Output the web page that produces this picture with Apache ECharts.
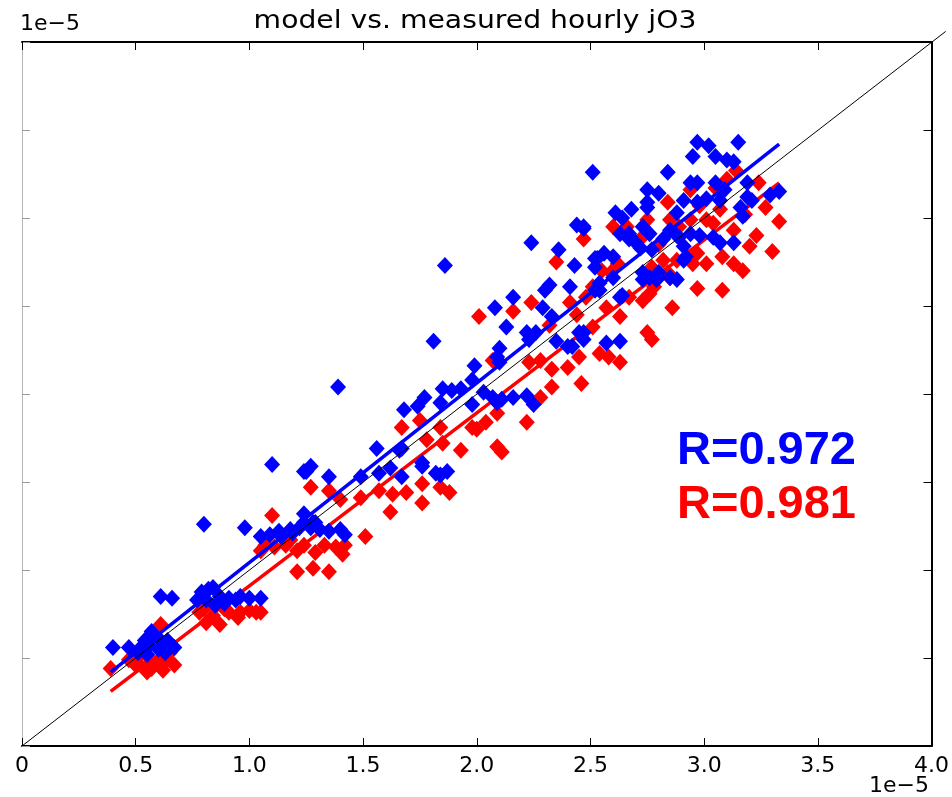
<!DOCTYPE html>
<html><head><meta charset="utf-8">
<script src="https://cdn.jsdelivr.net/npm/echarts/dist/echarts.min.js"></script>
<style>html,body{margin:0;padding:0;background:#fff}#c{width:952px;height:797px}</style>
</head><body><div id="c"></div>
<script>
// values in units of 1e-5
const titleText = 'model vs. measured hourly jO3';
const offsetText = '1e\u22125';
const xTicks = [0, 0.5, 1.0, 1.5, 2.0, 2.5, 3.0, 3.5, 4.0];

const blueX = [0.40,0.47,0.51,0.54,0.56,0.58,0.61,0.62,0.64,0.66,0.67,0.55,0.60,0.53,0.63,0.65,0.57,0.61,
0.80,0.79,0.82,0.84,0.81,0.87,0.91,0.96,1.00,1.05,0.89,0.94,0.85,0.98,0.77,
1.10,1.24,1.27,1.35,1.24,1.05,1.09,1.13,1.18,1.22,1.24,1.27,1.29,1.31,1.35,1.40,1.42,1.19,1.14,1.28,1.25,
1.39,1.56,1.67,1.66,1.49,1.57,1.62,1.67,1.76,1.82,1.87,1.76,1.84,1.68,1.74,1.77,1.84,1.85,1.81,1.86,1.93,1.98,1.89,1.99,1.98,2.07,2.09,2.11,2.16,2.22,2.03,2.25,2.09,2.10,2.10,2.13,2.08,2.16,2.24,2.36,2.44,2.47,2.43,2.32,2.30,2.41,2.29,2.52,2.52,2.23,2.26,2.33,2.22,2.45,2.47,2.42,2.35,2.40,2.57,2.63,
2.61,2.68,2.75,2.54,2.60,2.63,2.73,2.79,2.76,2.64,2.67,2.70,2.76,2.89,2.91,2.80,2.51,2.84,2.97,3.02,3.15,2.95,3.05,3.10,3.13,2.75,2.80,2.94,2.97,3.05,3.19,3.29,3.33,3.19,3.21,2.73,2.75,2.88,2.91,2.97,3.01,3.07,3.16,3.17,2.47,2.63,2.67,2.85,2.88,2.94,2.98,3.04,3.07,3.13,2.82,2.72,2.77,2.60,2.56,2.53,2.52,2.73,2.80,2.85,2.88,2.64,2.54,2.47,2.91,2.92,3.09];
const blueY = [0.56,0.56,0.53,0.60,0.57,0.63,0.85,0.57,0.60,0.84,0.56,0.52,0.55,0.57,0.53,0.57,0.65,0.60,
1.26,0.875,0.89,0.90,0.83,0.85,0.84,0.85,0.84,0.84,0.81,0.83,0.80,1.24,0.83,
1.60,1.56,1.59,1.53,1.32,1.19,1.20,1.22,1.23,1.24,1.27,1.24,1.27,1.23,1.22,1.23,1.20,1.21,1.19,1.27,1.56,
2.04,1.69,1.69,1.68,1.53,1.55,1.58,1.53,1.59,1.55,1.56,1.61,1.54,1.91,1.93,1.98,1.95,2.03,2.30,2.73,2.03,2.08,2.02,2.16,1.94,1.98,1.95,1.97,1.98,1.99,2.01,1.94,2.21,2.26,2.18,2.38,2.49,2.55,2.86,2.82,2.96,2.94,2.73,2.62,2.59,2.61,2.49,2.77,2.59,2.31,2.35,2.44,2.35,2.35,2.31,2.27,2.30,2.27,2.29,2.30,
3.03,3.05,3.06,2.63,2.66,2.55,2.65,2.65,2.66,3.00,2.91,2.86,2.91,2.89,2.76,2.69,3.26,3.26,3.43,3.41,3.43,3.35,3.35,3.33,3.32,3.16,3.14,3.20,3.20,3.20,3.20,3.13,3.15,3.12,3.10,2.95,3.09,3.03,3.10,3.09,3.11,3.10,3.06,3.01,2.95,2.91,2.88,2.93,2.90,2.91,2.90,2.89,2.86,2.86,2.88,2.83,2.82,2.78,2.80,2.77,2.72,2.69,2.66,2.66,2.65,2.56,2.59,2.35,2.84,2.78,3.16];

const redX = [0.39,0.47,0.51,0.54,0.56,0.58,0.61,0.62,0.64,0.67,0.55,0.60,0.52,0.63,0.57,0.65,0.50,
0.81,0.87,0.91,0.96,1.00,1.05,0.84,0.78,0.95,1.03,0.89,0.80,
1.10,1.27,1.35,1.40,1.05,1.21,1.28,1.35,1.41,1.07,1.11,1.16,1.21,1.24,1.29,1.33,1.38,1.42,1.18,
1.67,1.75,1.78,1.84,1.85,1.93,1.98,2.09,2.11,2.22,2.09,2.04,2.00,1.49,1.57,1.63,1.69,1.76,1.84,1.88,1.76,1.62,1.51,2.33,2.28,2.07,2.47,2.35,2.24,2.16,2.01,2.41,2.51,2.32,2.51,2.45,2.40,2.33,2.28,2.46,2.23,2.44,2.62,2.60,2.73,2.76,2.97,3.08,2.86,2.75,2.77,2.63,2.54,2.58,
2.77,2.82,2.85,2.89,2.94,3.13,3.17,3.14,3.24,3.10,3.05,2.94,3.27,3.33,3.30,3.20,3.23,3.13,3.08,3.01,3.04,2.97,2.88,2.84,2.78,2.67,2.63,2.48,2.57,2.55,2.59,2.66,2.75,2.85,3.01,2.95,2.84,2.98,3.07,3.18,2.72,2.80];
const redY = [0.44,0.49,0.47,0.44,0.50,0.46,0.69,0.43,0.49,0.46,0.42,0.48,0.52,0.52,0.44,0.53,0.46,
0.70,0.69,0.76,0.76,0.77,0.76,0.74,0.76,0.73,0.76,0.78,0.78,
1.31,1.47,1.45,1.40,1.11,0.99,1.01,0.99,1.09,1.14,1.13,1.14,1.11,1.14,1.10,1.14,1.13,1.14,1.17,
1.81,1.85,1.74,1.81,1.72,1.68,1.81,1.70,1.67,1.84,1.89,1.84,1.80,1.41,1.45,1.43,1.44,1.49,1.47,1.44,1.38,1.33,1.19,2.04,1.98,2.19,2.88,2.75,2.52,2.47,2.44,2.52,2.61,2.39,2.38,2.21,2.15,2.14,2.19,2.06,2.18,2.45,2.74,2.95,2.53,2.57,2.60,2.59,2.49,2.35,2.31,2.18,2.23,2.21,
2.72,2.76,2.66,2.95,2.99,2.74,2.70,3.27,3.20,3.22,3.17,3.16,3.06,2.98,2.81,2.84,2.90,2.93,2.78,2.99,2.97,2.80,2.76,2.69,2.61,2.55,2.44,2.55,2.49,2.70,2.69,2.95,2.99,2.99,2.74,2.74,3.09,3.07,3.05,3.02,2.88,2.85];

// regression lines (end points) and 1:1 line
const fitX = [0.39, 3.33];
const blueFitY = [0.42, 3.42];
const redFitY = [0.31, 3.20];
const oneToOne = [0, 4.06];
const blueLabel = 'R=0.972';
const redLabel = 'R=0.981';

function zip(a, b) { const n = Math.min(a.length, b.length); const o = []; for (let i = 0; i < n; i++) o.push([a[i], b[i]]); return o; }

const chart = echarts.init(document.getElementById('c'), null, {renderer: 'canvas'});
const FONT = 'DejaVu Sans';
const axisCommon = {
  type: 'value', min: 0, max: 4, interval: 0.5,
  splitLine: {show: false},
  axisTick: {show: true, inside: true, length: 8, lineStyle: {color: '#000', width: 1}},
};
// second (hidden) grid with the same scale per pixel but reaching to 4.06, so the 1:1 line runs past the frame
const extMax = oneToOne[1];
const pxPerX = 910 / 4, pxPerY = 704 / 4;
const hidden = {type: 'value', min: 0, max: extMax, show: false, splitLine: {show: false}};
chart.setOption({
  animation: false,
  backgroundColor: '#fff',
  grid: [
    {left: 22, right: 20, top: 42, bottom: 51, containLabel: false},
    {left: 22, width: extMax * pxPerX, bottom: 51, height: extMax * pxPerY, containLabel: false}
  ],
  xAxis: [
    Object.assign({}, axisCommon, {
      gridIndex: 0, position: 'bottom',
      axisLine: {show: true, onZero: false, lineStyle: {color: '#000', width: 2}},
      axisLabel: {show: true, margin: 9, color: '#000', fontFamily: FONT, fontSize: 22,
        showMinLabel: true, showMaxLabel: true,
        formatter: v => { const t = xTicks.find(k => Math.abs(k - v) < 1e-9); const val = t === undefined ? v : t; return val === 0 ? '0' : val.toFixed(1); }}
    }),
    Object.assign({}, axisCommon, {
      gridIndex: 0, position: 'top',
      axisLine: {show: true, onZero: false, lineStyle: {color: '#000', width: 2}},
      axisLabel: {show: false}
    }),
    Object.assign({}, hidden, {gridIndex: 1})
  ],
  yAxis: [
    Object.assign({}, axisCommon, {
      gridIndex: 0, position: 'left',
      axisLine: {show: true, onZero: false, lineStyle: {color: '#b4b4b4', width: 1}},
      axisTick: {show: true, inside: true, length: 8, lineStyle: {color: '#9a9a9a', width: 1}},
      axisLabel: {show: false}
    }),
    Object.assign({}, axisCommon, {
      gridIndex: 0, position: 'right',
      axisLine: {show: true, onZero: false, lineStyle: {color: '#000', width: 2}},
      axisLabel: {show: false}
    }),
    Object.assign({}, hidden, {gridIndex: 1})
  ],
  series: [
    {type: 'scatter', name: 'red', xAxisIndex: 0, yAxisIndex: 0, data: zip(redX, redY), symbol: 'diamond', symbolSize: [16, 17],
      itemStyle: {color: '#ff0000', opacity: 1}, z: 2},
    {type: 'line', name: 'redfit', xAxisIndex: 0, yAxisIndex: 0, data: zip(fitX, redFitY), showSymbol: false, symbol: 'none',
      lineStyle: {color: '#ff0000', width: 3.5}, z: 3},
    {type: 'scatter', name: 'blue', xAxisIndex: 0, yAxisIndex: 0, data: zip(blueX, blueY), symbol: 'diamond', symbolSize: [16, 17],
      itemStyle: {color: '#0000ff', opacity: 1}, z: 4},
    {type: 'line', name: 'bluefit', xAxisIndex: 0, yAxisIndex: 0, data: zip(fitX, blueFitY), showSymbol: false, symbol: 'none',
      lineStyle: {color: '#0000ff', width: 3.5}, z: 5},
    {type: 'line', name: 'one', xAxisIndex: 2, yAxisIndex: 2, data: zip(oneToOne, oneToOne), showSymbol: false, symbol: 'none', clip: false,
      lineStyle: {color: '#000', width: 1}, z: 6}
  ],
  graphic: [
    {type: 'text', x: 475, y: 21, scaleX: 1.13, z: 10,
      style: {text: titleText, font: '25px "DejaVu Sans"', fill: '#000', align: 'center', verticalAlign: 'middle'}},
    {type: 'text', x: 20, y: 24, z: 10,
      style: {text: offsetText, font: '22px "DejaVu Sans"', fill: '#000', align: 'left', verticalAlign: 'middle'}},
    {type: 'text', x: 929, y: 786, z: 10,
      style: {text: offsetText, font: '22px "DejaVu Sans"', fill: '#000', align: 'right', verticalAlign: 'middle'}},
    {type: 'text', x: 677, y: 451, z: 10,
      style: {text: blueLabel, font: 'bold 47px "Liberation Sans"', fill: '#0000ff', align: 'left', verticalAlign: 'middle'}},
    {type: 'text', x: 677, y: 505, z: 10,
      style: {text: redLabel, font: 'bold 47px "Liberation Sans"', fill: '#ff0000', align: 'left', verticalAlign: 'middle'}}
  ]
});
</script></body></html>
